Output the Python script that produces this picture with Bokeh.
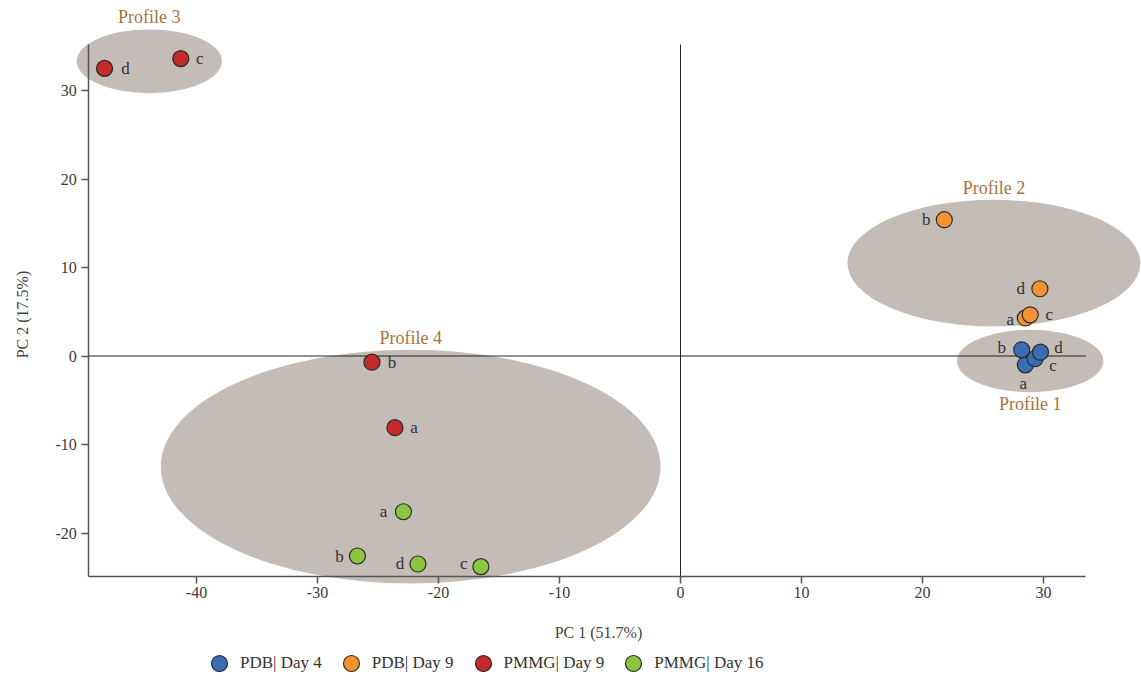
from bokeh.plotting import figure
from bokeh.models import (LinearAxis, FixedTicker, Legend, LegendItem, Label,
                          ColumnDataSource, Range1d)
from bokeh.core.properties import value
from bokeh.embed import file_html
from bokeh.resources import INLINE

# PCA scores per group, replicates a-d
replicates = ["a", "b", "c", "d"]
pdb4_x = [28.5, 28.2, 29.3, 29.75]
pdb4_y = [-1.0, 0.7, -0.3, 0.43]
pdb9_x = [28.5, 21.8, 28.9, 29.7]
pdb9_y = [4.3, 15.4, 4.65, 7.6]
pmmg9_x = [-23.6, -25.5, -41.3, -47.6]
pmmg9_y = [-8.1, -0.7, 33.6, 32.5]
pmmg16_x = [-22.9, -26.7, -16.5, -21.7]
pmmg16_y = [-17.6, -22.6, -23.8, -23.5]
group_names = ["PDB| Day 4", "PDB| Day 9", "PMMG| Day 9", "PMMG| Day 16"]

# profile clusters (ellipse centre and extent, in PC units)
profile_names = ["Profile 1", "Profile 2", "Profile 3", "Profile 4"]
profile_cx = [28.9, 25.9, -43.9, -22.3]
profile_cy = [-0.56, 10.5, 33.3, -12.5]
profile_w = [12.1, 24.2, 12.0, 41.3]
profile_h = [7.05, 14.3, 7.2, 26.4]
profile_label_below = [True, False, False, False]

x_ticks = [-40, -30, -20, -10, 0, 10, 20, 30]
y_ticks = [-20, -10, 0, 10, 20, 30]
x_extent = (-48.9, 33.5)
y_extent = (-24.9, 35.2)

# replicate letter placement around each marker (screen px)
label_offsets = {
    "PDB| Day 4": [(-2, 19), (-20, -2), (18, 7), (18, -5)],
    "PDB| Day 9": [(-15, 2), (-18, 0), (19, 0), (-19, 0)],
    "PMMG| Day 9": [(19, 0), (20, 0), (19, 0), (21, 0)],
    "PMMG| Day 16": [(-20, 0), (-18, 0), (-17, -3), (-18, 0)],
}
colors = ["#3b6db3", "#f39331", "#c42a2c", "#8cc540"]
outline = "#2a2a2a"

SERIF = "Liberation Serif"
W, H = 1141, 686
X_ZERO, X_SCALE = 680, 12.1      # px of x = 0, px per unit
Y_ZERO, Y_SCALE = 355.5, 8.85    # px of y = 0, px per unit


def px_to_x(px):
    return (px - X_ZERO) / X_SCALE


def px_to_y(py):
    return (Y_ZERO - py) / Y_SCALE


# the frame fills the canvas; the axes sit at fixed data positions inside it
p = figure(width=W, height=H, output_backend="svg", toolbar_location=None,
           x_axis_location=None, y_axis_location=None,
           x_range=Range1d(px_to_x(0), px_to_x(W)),
           y_range=Range1d(px_to_y(H), px_to_y(0)),
           min_border=0)
p.outline_line_color = None
p.border_fill_color = "white"
p.grid.visible = False

# cluster ellipses
p.ellipse(x=profile_cx, y=profile_cy, width=profile_w, height=profile_h,
          fill_color="#c4bcb6", line_color=None)

for name, cx, cy, h, below in zip(profile_names, profile_cx, profile_cy,
                                  profile_h, profile_label_below):
    yy = cy - h / 2 if below else cy + h / 2
    p.add_layout(Label(x=cx, y=yy, text=name, text_align="center",
                       text_baseline="middle", y_offset=-12 if below else 12,
                       text_font=SERIF, text_font_size="18px",
                       text_color="#a8733f"))

# zero cross lines
p.segment(x0=[x_extent[0], 0], y0=[0, y_extent[0]],
          x1=[x_extent[1], 0], y1=[0, y_extent[1]],
          line_color="#222222", line_width=1)

groups = [(pdb4_x, pdb4_y), (pdb9_x, pdb9_y), (pmmg9_x, pmmg9_y), (pmmg16_x, pmmg16_y)]
items = []
for (gx, gy), name, col in zip(groups, group_names, colors):
    offs = label_offsets[name]
    src = ColumnDataSource(dict(x=gx, y=gy, t=replicates,
                                dx=[o[0] for o in offs], dy=[o[1] for o in offs]))
    r = p.scatter("x", "y", source=src, size=16, fill_color=col,
                  line_color=outline, line_width=1.2)
    p.text("x", "y", text="t", source=src, x_offset="dx", y_offset="dy",
           text_align="center", text_baseline="middle",
           text_font=value(SERIF), text_font_size="17px", text_color="#333333")
    items.append(LegendItem(label=name, renderers=[r]))

xaxis = LinearAxis(fixed_location=y_extent[0], bounds=x_extent,
                   ticker=FixedTicker(ticks=x_ticks),
                   major_label_overrides={t: str(t) for t in x_ticks})
yaxis = LinearAxis(fixed_location=x_extent[0], bounds=y_extent,
                   ticker=FixedTicker(ticks=y_ticks),
                   major_label_overrides={t: str(t) for t in y_ticks})
for ax in (xaxis, yaxis):
    ax.axis_line_color = "#555555"
    ax.axis_line_width = 1.5
    ax.major_tick_line_color = "#555555"
    ax.major_tick_line_width = 1.5
    ax.major_tick_out = 7
    ax.major_tick_in = 0
    ax.minor_tick_line_color = None
    ax.major_label_text_font = SERIF
    ax.major_label_text_font_size = "16px"
    ax.major_label_text_color = "#3a3a3a"
xaxis.major_label_standoff = 4
yaxis.major_label_standoff = 5
p.add_layout(xaxis, "below")
p.add_layout(yaxis, "left")

# axis titles
p.add_layout(Label(x=px_to_x(598), y=px_to_y(632), text="PC 1 (51.7%)",
                   text_align="center", text_baseline="middle",
                   text_font=SERIF, text_font_size="16px", text_color="#444444"))
p.add_layout(Label(x=px_to_x(22), y=px_to_y(314), text="PC 2 (17.5%)", angle=1.5708,
                   text_align="center", text_baseline="middle",
                   text_font=SERIF, text_font_size="16px", text_color="#444444"))

legend = Legend(items=items, orientation="horizontal", location=(199, 3),
                glyph_width=40, glyph_height=40, label_standoff=1,
                spacing=9, padding=0, margin=0,
                border_line_color=None, background_fill_alpha=0,
                label_text_font=SERIF, label_text_font_size="17px",
                label_text_color="#333333")
p.add_layout(legend)

open("out.html", "w").write(file_html(p, INLINE))
